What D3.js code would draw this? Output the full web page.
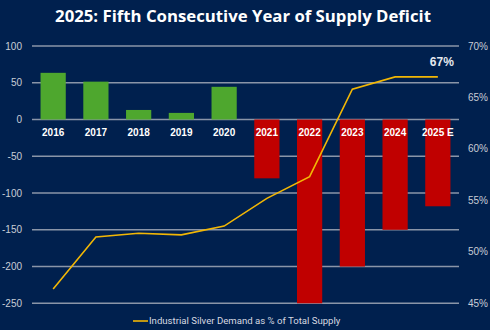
<!DOCTYPE html>
<html>
<head>
<meta charset="utf-8">
<script src="https://cdn.jsdelivr.net/npm/d3@7"></script>
<style>
  html, body { margin: 0; padding: 0; background: #00204e; }
  svg { display: block; }
</style>
</head>
<body>
<div id="chart"></div>
<script>
// Data
const years = ["2016", "2017", "2018", "2019", "2020", "2021", "2022", "2023", "2024", "2025 E"];
const balance = [63.5, 51.5, 13, 9, 44.5, -80, -250, -200, -150, -118];
const industrialShare = [46.4, 51.45, 51.8, 51.65, 52.5, 55.2, 57.3, 65.8, 67.0, 67.0];
const leftTicks = [100, 50, 0, -50, -100, -150, -200, -250];
const rightTicks = [70, 65, 60, 55, 50, 45];

const width = 490;
const height = 330;
const margin = { top: 46, right: 31, bottom: 27, left: 32 };

const svg = d3.select("#chart")
    .append("svg")
    .attr("width", width)
    .attr("height", height);

svg.append("rect")
    .attr("width", width)
    .attr("height", height)
    .attr("fill", "#00204e");

// Title
svg.append("text")
    .attr("x", 243)
    .attr("y", 22)
    .attr("text-anchor", "middle")
    .style("font-family", "'Open Sans', sans-serif")
    .style("font-weight", "bold")
    .style("font-size", "16.75px")
    .style("fill", "#ffffff")
    .text("2025: Fifth Consecutive Year of Supply Deficit");

// Scales
const x = d3.scaleBand()
    .domain(years)
    .range([margin.left, width - margin.right])
    .paddingInner(0.41)
    .paddingOuter(0.2);

const y = d3.scaleLinear()
    .domain([-250, 100])
    .range([303.3, 46]);

const y2 = d3.scaleLinear()
    .domain([45, 70])
    .range([303.3, 46]);

// Gridlines
svg.append("g")
    .selectAll("line")
    .data(leftTicks)
    .enter().append("line")
    .attr("x1", margin.left)
    .attr("x2", width - margin.right)
    .attr("y1", d => y(d))
    .attr("y2", d => y(d))
    .style("stroke", "#8a95a8")
    .style("stroke-width", 1.5);

// Left axis labels
svg.append("g")
    .selectAll("text")
    .data(leftTicks)
    .enter().append("text")
    .attr("x", 22)
    .attr("y", d => y(d))
    .attr("dy", "0.35em")
    .attr("text-anchor", "end")
    .style("font-family", "'Liberation Sans', Arial, sans-serif")
    .style("font-size", "10px")
    .style("fill", "#c9cdd6")
    .text(d => d);

// Right axis labels
svg.append("g")
    .selectAll("text")
    .data(rightTicks)
    .enter().append("text")
    .attr("x", 468)
    .attr("y", d => y2(d))
    .attr("dy", "0.35em")
    .style("font-family", "'Liberation Sans', Arial, sans-serif")
    .style("font-size", "10px")
    .style("fill", "#c9cdd6")
    .text(d => d + "%");

// Bars
svg.append("g")
    .selectAll("rect")
    .data(years)
    .enter().append("rect")
    .attr("x", d => x(d))
    .attr("width", x.bandwidth())
    .attr("y", (d, i) => y(Math.max(0, balance[i])))
    .attr("height", (d, i) => Math.abs(y(balance[i]) - y(0)))
    .style("fill", (d, i) => balance[i] >= 0 ? "#4ea72e" : "#c00000");

// Year labels
svg.append("g")
    .selectAll("text")
    .data(years)
    .enter().append("text")
    .attr("x", d => x(d) + x.bandwidth() / 2)
    .attr("y", y(0) + 12.5)
    .attr("dy", "0.35em")
    .attr("text-anchor", "middle")
    .style("font-family", "'Liberation Sans', Arial, sans-serif")
    .style("font-weight", "bold")
    .style("font-size", "10px")
    .style("fill", "#ffffff")
    .text(d => d);

// Industrial demand line
const line = d3.line()
    .x((d, i) => x(years[i]) + x.bandwidth() / 2)
    .y(d => y2(d));

svg.append("path")
    .datum(industrialShare)
    .attr("d", line)
    .style("fill", "none")
    .style("stroke", "#f2b705")
    .style("stroke-width", 1.6);

// Last value label
const last = industrialShare.length - 1;
svg.append("text")
    .attr("x", x(years[last]) + x.bandwidth() / 2 + 4)
    .attr("y", y2(industrialShare[last]) - 11)
    .attr("text-anchor", "middle")
    .style("font-family", "'Liberation Sans', Arial, sans-serif")
    .style("font-weight", "bold")
    .style("font-size", "12px")
    .style("fill", "#e6e9ef")
    .text(Math.round(industrialShare[last]) + "%");

// Legend
const legend = svg.append("g")
    .attr("transform", "translate(133, 321)");

legend.append("line")
    .attr("x1", 0)
    .attr("x2", 15)
    .style("stroke", "#f2b705")
    .style("stroke-width", 1.6);

legend.append("text")
    .attr("x", 16)
    .attr("dy", "0.35em")
    .style("font-family", "Roboto, sans-serif")
    .style("font-size", "9.6px")
    .style("fill", "#d6d9e0")
    .text("Industrial Silver Demand as % of Total Supply");
</script>
</body>
</html>
